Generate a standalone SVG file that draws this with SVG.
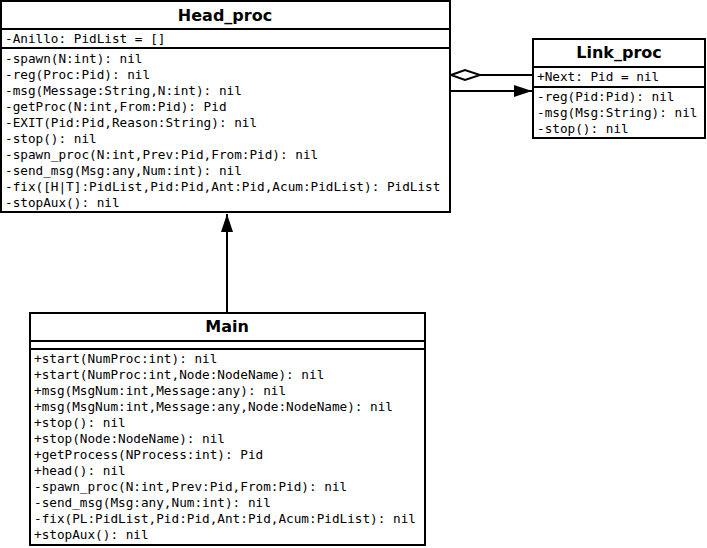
<svg xmlns="http://www.w3.org/2000/svg" width="707" height="548" viewBox="0 0 707 548">
<style>
.box{fill:#fff;stroke:#000;stroke-width:2}
.ln{stroke:#000;stroke-width:2;fill:none}
.t{font-family:"DejaVu Sans",sans-serif;font-weight:bold;font-size:16px;text-anchor:middle}
.m{font-family:"DejaVu Sans Mono",monospace;font-size:12.7px;white-space:pre}
</style>
<defs>
<marker id="tri" markerWidth="20" markerHeight="14" refX="18" refY="7" orient="auto" markerUnits="userSpaceOnUse">
<path d="M0,1 L18,7 L0,13 Z" fill="#000"/>
</marker>
</defs>
<rect width="707" height="548" fill="#fff"/>
<g id="connectors">
<path class="ln" d="M480,75 L533,75"/>
<path d="M451,75 L465,70 L480,75 L465,80 Z" fill="#fff" stroke="#000" stroke-width="2"/>
<path class="ln" d="M450,91 L532,91" marker-end="url(#tri)"/>
<path class="ln" d="M227,313 L227,214" marker-end="url(#tri)"/>
</g>
<g id="Head_proc">
<rect class="box" x="1" y="1" width="449" height="211"/>
<path class="ln" d="M1,29 H450 M1,48 H450"/>
<text class="t" x="225" y="21">Head_proc</text>
<text class="m" x="5" y="43">-Anillo: PidList = []</text>
<text class="m" x="5" y="63">-spawn(N:int): nil</text>
<text class="m" x="5" y="79">-reg(Proc:Pid): nil</text>
<text class="m" x="5" y="95">-msg(Message:String,N:int): nil</text>
<text class="m" x="5" y="111">-getProc(N:int,From:Pid): Pid</text>
<text class="m" x="5" y="127">-EXIT(Pid:Pid,Reason:String): nil</text>
<text class="m" x="5" y="143">-stop(): nil</text>
<text class="m" x="5" y="159">-spawn_proc(N:int,Prev:Pid,From:Pid): nil</text>
<text class="m" x="5" y="175">-send_msg(Msg:any,Num:int): nil</text>
<text class="m" x="5" y="191">-fix([H|T]:PidList,Pid:Pid,Ant:Pid,Acum:PidList): PidList</text>
<text class="m" x="5" y="207">-stopAux(): nil</text>
</g>
<g id="Link_proc">
<rect class="box" x="533" y="39" width="172" height="99"/>
<path class="ln" d="M533,67 H705 M533,87 H705"/>
<text class="t" x="619" y="58">Link_proc</text>
<text class="m" x="537" y="81">+Next: Pid = nil</text>
<text class="m" x="537" y="101">-reg(Pid:Pid): nil</text>
<text class="m" x="537" y="117">-msg(Msg:String): nil</text>
<text class="m" x="537" y="133">-stop(): nil</text>
</g>
<g id="Main">
<rect class="box" x="30" y="313" width="395" height="232"/>
<path class="ln" d="M30,341 H425 M30,349 H425"/>
<text class="t" x="227" y="332">Main</text>
<text class="m" x="34" y="363">+start(NumProc:int): nil</text>
<text class="m" x="34" y="379">+start(NumProc:int,Node:NodeName): nil</text>
<text class="m" x="34" y="395">+msg(MsgNum:int,Message:any): nil</text>
<text class="m" x="34" y="411">+msg(MsgNum:int,Message:any,Node:NodeName): nil</text>
<text class="m" x="34" y="427">+stop(): nil</text>
<text class="m" x="34" y="443">+stop(Node:NodeName): nil</text>
<text class="m" x="34" y="459">+getProcess(NProcess:int): Pid</text>
<text class="m" x="34" y="475">+head(): nil</text>
<text class="m" x="34" y="491">-spawn_proc(N:int,Prev:Pid,From:Pid): nil</text>
<text class="m" x="34" y="507">-send_msg(Msg:any,Num:int): nil</text>
<text class="m" x="34" y="523">-fix(PL:PidList,Pid:Pid,Ant:Pid,Acum:PidList): nil</text>
<text class="m" x="34" y="539">+stopAux(): nil</text>
</g>
</svg>
